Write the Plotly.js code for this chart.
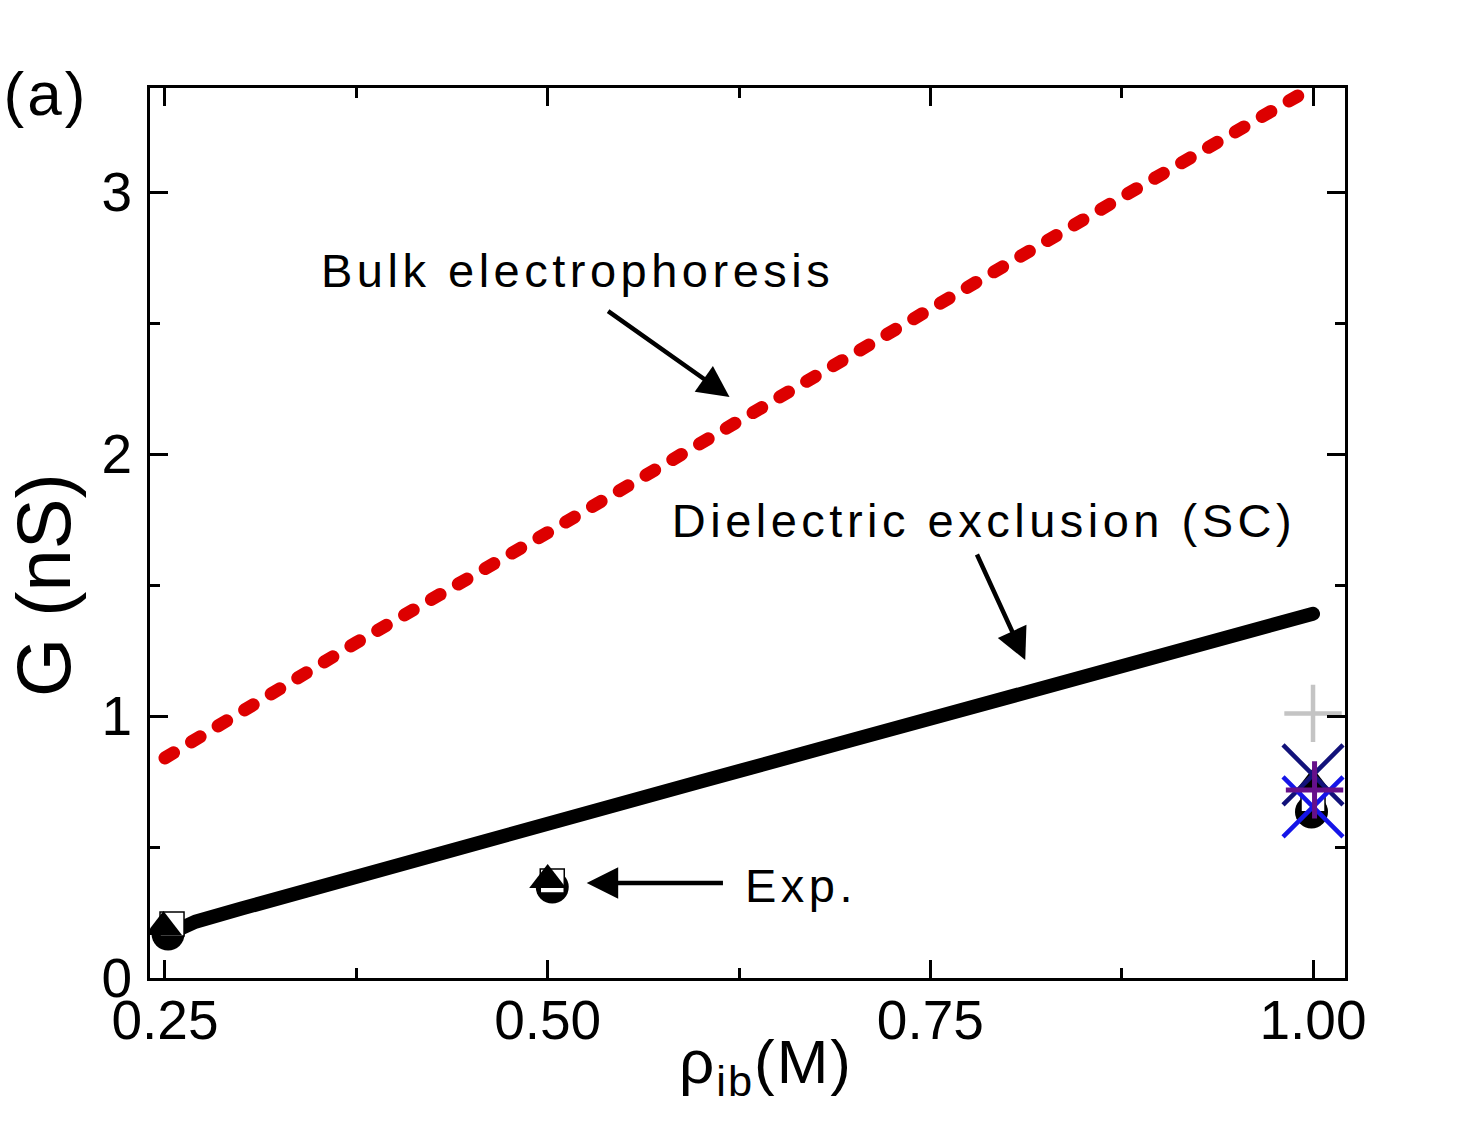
<!DOCTYPE html>
<html>
<head>
<meta charset="utf-8">
<script src="https://cdn.plot.ly/plotly-3.0.1.min.js"></script>
<style>
  html, body { margin: 0; padding: 0; background: #fff; }
  #chart { width: 1470px; height: 1131px; }
  .annotation[data-index="0"] .annotation-text,
  .annotation[data-index="1"] .annotation-text,
  .annotation[data-index="2"] .annotation-text { letter-spacing: 4.5px; }
  .annotation[data-index="3"] .annotation-text { letter-spacing: 3px; }
  .annotation[data-index="4"] .annotation-text { letter-spacing: 2px; }
  .scatterlayer .js-line { stroke-linecap: round; }
</style>
</head>
<body>
<div id="chart"></div>
<script>
// ---- data ----
const bulkX = [0.25, 0.375, 0.5, 0.625, 0.75, 0.875, 1.0];
const bulkY = [0.84, 1.28, 1.70, 2.13, 2.56, 2.98, 3.40];

const scX = [0.255, 0.27, 0.3, 0.4, 0.5, 0.6, 0.7, 0.8, 0.9, 1.0];
const scY = [0.175, 0.215, 0.265, 0.43, 0.59, 0.75, 0.91, 1.07, 1.23, 1.39];

const expCircleX = [0.252, 0.503, 0.999];
const expCircleY = [0.168, 0.347, 0.634];
const expSquareX = [0.2546, 0.503, 1.0];
const expSquareY = [0.206, 0.37, 0.68];
const expTriX = [0.249, 0.5, 1.0];
const expTriY = [0.195, 0.374, 0.74];

const grayPlusX = [1.0];   const grayPlusY = [1.01];
const navyXX = [1.0];      const navyXY = [0.775];
const blueXX = [1.0];      const blueXY = [0.653];
const purplePlusX = [1.001]; const purplePlusY = [0.718];

const xTickVals = [0.25, 0.5, 0.75, 1.0];
const xTickText = ['0.25', '0.50', '0.75', '1.00'];
const yTickVals = [0, 1, 2, 3];
const yTickText = ['0', '1', '2', '3'];

const xTitle = 'ρ<sub>ib</sub>(M)';
const yTitle = 'G (nS)';

// ---- chart ----
const FONT = 'Liberation Sans, Arial, sans-serif';
// plot area in pixels (for placing free text labels)
const PL = 150, PR = 1345, PT = 88, PB = 978;
const px2paperX = p => (p - PL) / (PR - PL);
const px2paperY = p => (PB - p) / (PB - PT);

const traces = [
  { x: bulkX, y: bulkY, mode: 'lines', name: 'Bulk electrophoresis',
    line: { color: '#dd0000', width: 13, dash: '10px,21px' } },
  { x: scX, y: scY, mode: 'lines', name: 'Dielectric exclusion (SC)',
    line: { color: '#000000', width: 14 } },
  { x: expCircleX, y: expCircleY, mode: 'markers', name: 'Exp. circle',
    marker: { symbol: 'circle', size: 33, color: '#000000' } },
  { x: expSquareX, y: expSquareY, mode: 'markers', name: 'Exp. square',
    marker: { symbol: 'square', size: 24, color: '#ffffff', line: { color: '#000000', width: 1.5 } } },
  { x: expTriX, y: expTriY, mode: 'markers', name: 'Exp. triangle',
    marker: { symbol: 'triangle-up', size: 32, color: '#000000' } },
  { x: grayPlusX, y: grayPlusY, mode: 'markers', name: 'gray +',
    marker: { symbol: 'cross-thin', size: 41, line: { color: '#c4c4c4', width: 4.5 } } },
  { x: navyXX, y: navyXY, mode: 'markers', name: 'navy x',
    marker: { symbol: 'x-thin', size: 60, line: { color: '#12127a', width: 4.5 } } },
  { x: blueXX, y: blueXY, mode: 'markers', name: 'blue x',
    marker: { symbol: 'x-thin', size: 60, line: { color: '#1515e8', width: 4.5 } } },
  { x: purplePlusX, y: purplePlusY, mode: 'markers', name: 'purple +',
    marker: { symbol: 'cross-thin', size: 41, line: { color: '#66108a', width: 5 } } }
];

const arrowStyle = { showarrow: true, arrowhead: 2, arrowsize: 1.4, arrowwidth: 4.5,
  arrowcolor: '#000000', text: '', xref: 'x', yref: 'y', axref: 'x', ayref: 'y', standoff: 0 };

const annotations = [
  { text: 'Bulk electrophoresis', xref: 'paper', yref: 'paper',
    x: px2paperX(577), y: px2paperY(270), xanchor: 'center', yanchor: 'middle',
    showarrow: false, font: { family: FONT, size: 47, color: '#000' } },
  { text: 'Dielectric exclusion (SC)', xref: 'paper', yref: 'paper',
    x: px2paperX(984), y: px2paperY(520), xanchor: 'center', yanchor: 'middle',
    showarrow: false, font: { family: FONT, size: 47, color: '#000' } },
  { text: 'Exp.', xref: 'paper', yref: 'paper',
    x: px2paperX(801), y: px2paperY(885), xanchor: 'center', yanchor: 'middle',
    showarrow: false, font: { family: FONT, size: 47, color: '#000' } },
  { text: '(a)', xref: 'paper', yref: 'paper',
    x: px2paperX(46), y: px2paperY(94), xanchor: 'center', yanchor: 'middle',
    showarrow: false, font: { family: FONT, size: 62, color: '#000' } },
  { text: xTitle, xref: 'paper', yref: 'paper',
    x: px2paperX(766), y: px2paperY(1025), xanchor: 'center', yanchor: 'top',
    showarrow: false, font: { family: FONT, size: 62, color: '#000' } },
  { text: yTitle, xref: 'paper', yref: 'paper', textangle: -90,
    x: px2paperX(43), y: px2paperY(585), xanchor: 'center', yanchor: 'middle',
    showarrow: false, font: { family: FONT, size: 76, color: '#000' } },
  Object.assign({}, arrowStyle, { x: 0.6188, y: 2.2176, ax: 0.5385, ay: 2.5496 }),
  Object.assign({}, arrowStyle, { x: 0.812, y: 1.2137, ax: 0.780, ay: 1.622 }),
  Object.assign({}, arrowStyle, { x: 0.5255, y: 0.3626, ax: 0.6155, ay: 0.3626 })
];

const axisCommon = {
  showgrid: false, zeroline: false, showline: true, linecolor: '#000', linewidth: 3,
  mirror: 'ticks', ticks: 'inside', ticklen: 18, tickwidth: 3, tickcolor: '#000',
  tickfont: { family: FONT, size: 55, color: '#000' }
};

const layout = {
  width: 1470, height: 1131,
  margin: { l: PL, r: 1470 - PR, t: PT, b: 1131 - PB, pad: 0 },
  paper_bgcolor: '#ffffff', plot_bgcolor: '#ffffff',
  showlegend: false,
  font: { family: FONT, color: '#000' },
  xaxis: Object.assign({}, axisCommon, {
    range: [0.24021, 1.02089], tickmode: 'array', tickvals: xTickVals, ticktext: xTickText,
    ticklabelstandoff: -8,
    minor: { ticks: 'inside', ticklen: 10, tickwidth: 3, tickcolor: '#000', tick0: 0.25, dtick: 0.125 }
  }),
  yaxis: Object.assign({}, axisCommon, {
    range: [0, 3.397], tickmode: 'array', tickvals: yTickVals, ticktext: yTickText,
    ticklabelstandoff: 4,
    minor: { ticks: 'inside', ticklen: 10, tickwidth: 3, tickcolor: '#000', tick0: 0, dtick: 0.5 }
  }),
  annotations: annotations
};

Plotly.newPlot('chart', traces, layout, { staticPlot: true, displayModeBar: false });
</script>
</body>
</html>
